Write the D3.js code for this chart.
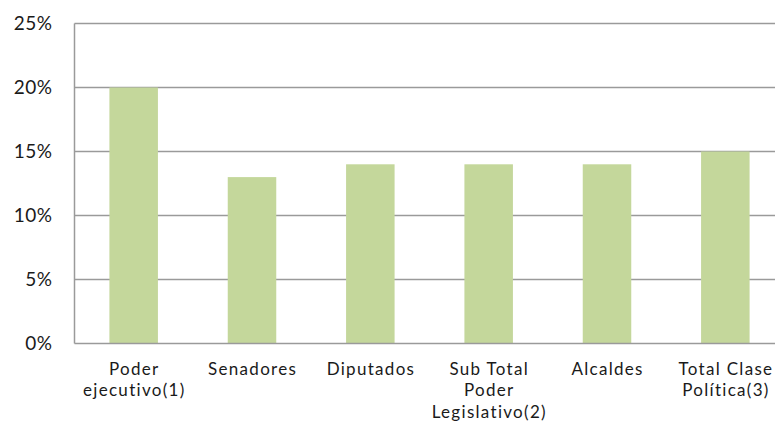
<!DOCTYPE html>
<html>
<head>
<meta charset="utf-8">
<script src="https://cdn.jsdelivr.net/npm/d3@7"></script>
<style>
  body { margin: 0; background: #fff; }
  svg { display: block; }
  text { font-family: "Lato", "DejaVu Sans", sans-serif; fill: #1a1a1a; }
</style>
</head>
<body>
<script>
// Chart data
var categories = [
  ["Poder", "ejecutivo(1)"],
  ["Senadores"],
  ["Diputados"],
  ["Sub Total", "Poder", "Legislativo(2)"],
  ["Alcaldes"],
  ["Total Clase", "Política(3)"]
];
var values = [20, 13, 14, 14, 14, 15];
var yTicks = [0, 5, 10, 15, 20, 25];

var svgWidth = 775;
var svgHeight = 423;

var margin = { top: 23.5, left: 74.5 };
var chartWidth = 710;
var chartHeight = 320;

var svg = d3.select("body")
  .append("svg")
  .attr("width", svgWidth)
  .attr("height", svgHeight);

var chartGroup = svg.append("g")
  .attr("transform", `translate(${margin.left}, ${margin.top})`);

var xScale = d3.scaleBand()
  .domain(d3.range(categories.length))
  .range([0, chartWidth])
  .paddingInner(0.59)
  .paddingOuter(0.295);

var yScale = d3.scaleLinear()
  .domain([0, 25])
  .range([chartHeight, 0]);

// gridlines
chartGroup.selectAll(".grid")
  .data(yTicks.slice(1))
  .enter()
  .append("line")
  .attr("x1", 0)
  .attr("x2", chartWidth)
  .attr("y1", d => yScale(d))
  .attr("y2", d => yScale(d))
  .attr("stroke", "#9a9a9a")
  .attr("stroke-width", 1.5);

// bars
chartGroup.selectAll(".bar")
  .data(values)
  .enter()
  .append("rect")
  .attr("x", (d, i) => xScale(i))
  .attr("y", d => yScale(d))
  .attr("width", xScale.bandwidth())
  .attr("height", d => chartHeight - yScale(d))
  .attr("fill", "#c4d79b");

// axis lines
chartGroup.append("line")
  .attr("x1", 0).attr("x2", 0)
  .attr("y1", 0).attr("y2", chartHeight)
  .attr("stroke", "#9a9a9a")
  .attr("stroke-width", 1.5);

chartGroup.append("line")
  .attr("x1", 0).attr("x2", chartWidth)
  .attr("y1", chartHeight).attr("y2", chartHeight)
  .attr("stroke", "#9a9a9a")
  .attr("stroke-width", 1.5);

// y tick labels
chartGroup.selectAll(".ylabel")
  .data(yTicks)
  .enter()
  .append("text")
  .attr("x", -22)
  .attr("y", d => yScale(d))
  .attr("dy", "0.35em")
  .attr("text-anchor", "end")
  .style("font-size", "19px")
  .style("letter-spacing", "0.5px")
  .text(d => d + "%");

// x labels
var xLabels = chartGroup.selectAll(".xlabel")
  .data(categories)
  .enter()
  .append("text")
  .attr("text-anchor", "middle")
  .attr("transform", (d, i) => `translate(${xScale(i) + xScale.bandwidth() / 2 + 0.6}, ${chartHeight + 31})`)
  .style("font-size", "17px")
  .style("letter-spacing", "1.3px");

xLabels.selectAll("tspan")
  .data(d => d)
  .enter()
  .append("tspan")
  .attr("x", 0)
  .attr("dy", (d, i) => i === 0 ? 0 : 21.5)
  .text(d => d);
</script>
</body>
</html>
